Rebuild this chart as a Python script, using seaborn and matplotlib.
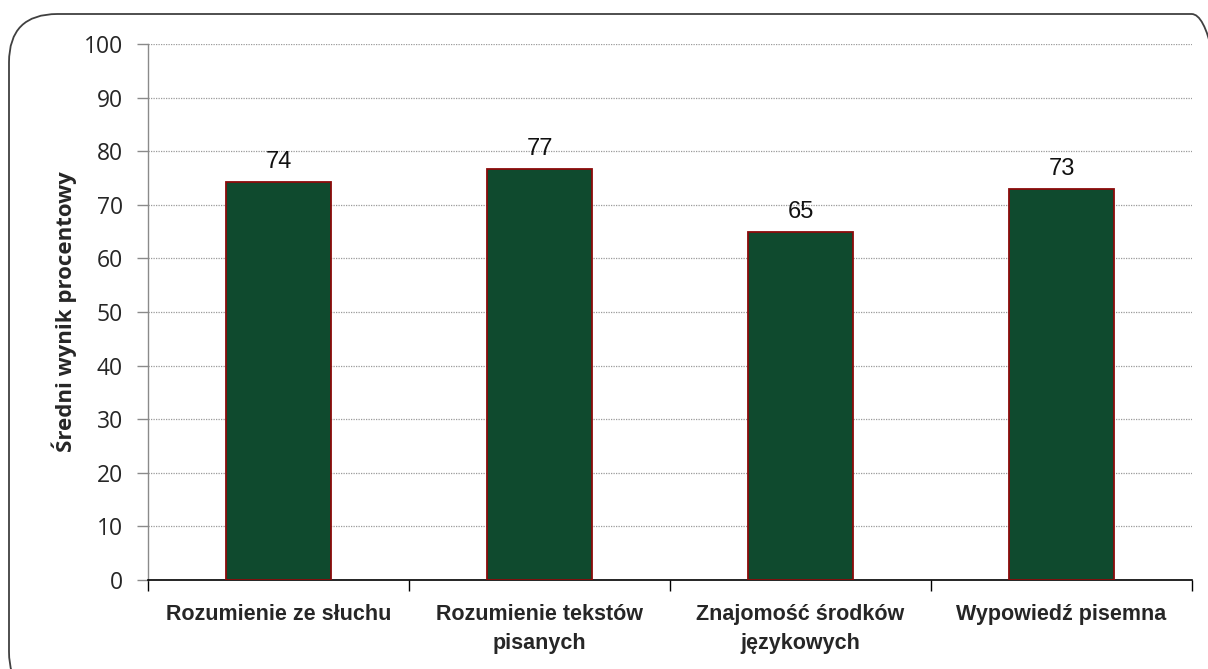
import matplotlib
matplotlib.use("Agg")
import matplotlib.pyplot as plt
import seaborn as sns
import pandas as pd
from matplotlib.patches import FancyBboxPatch

categories = ["Rozumienie ze słuchu", "Rozumienie tekstów\npisanych",
              "Znajomość środków\njęzykowych", "Wypowiedź pisemna"]
values = [74.3, 76.6, 64.9, 73.0]
labels = ["74", "77", "65", "73"]
yticks = [0, 10, 20, 30, 40, 50, 60, 70, 80, 90, 100]

sns.set_theme(style="white")
plt.rcParams['font.family'] = ['Liberation Sans', 'DejaVu Sans']

df = pd.DataFrame({"cat": categories, "val": values})

fig = plt.figure(figsize=(12.08, 6.69), dpi=100)
ax = fig.add_axes([148/1208, 1-580/669, (1192-148)/1208, (580-44)/669])

# rounded border
border = FancyBboxPatch((9/1208, 1-700/669), (1240-9)/1208, (700-14)/669,
                        boxstyle="round,pad=0,rounding_size=0.04",
                        transform=fig.transFigure, fill=False,
                        edgecolor="#404040", linewidth=1.3, zorder=0,
                        mutation_aspect=1208/669)
fig.patches.append(border)

sns.barplot(data=df, x="cat", y="val", ax=ax, color="#0F4A2E", width=0.4,
            edgecolor="#8B0A0A", linewidth=1.3, saturation=1, zorder=3)

ax.set_ylim(0, 100)
ax.set_xlim(-0.5, 3.5)
ax.set_yticks(yticks)
ax.set_yticklabels([str(t) for t in yticks], family=['Open Sans', 'DejaVu Sans'], fontsize=16.5)
ax.yaxis.grid(True, linestyle=(0, (1, 1)), color="#9a9a9a", linewidth=0.9, zorder=0)
ax.set_axisbelow(True)

for i, (v, lab) in enumerate(zip(values, labels)):
    ax.text(i, v + 1.7, lab, ha="center", va="bottom", fontsize=17,
            family=['Liberation Sans Narrow', 'Liberation Sans', 'DejaVu Sans'],
            color="#111111", zorder=4)

ax.set_xlabel("")
ax.set_ylabel("Średni wynik procentowy", fontsize=16, fontweight="bold",
              family=['Open Sans', 'DejaVu Sans'], labelpad=5)

ax.set_xticks(range(len(categories)))
ax.set_xticklabels(categories, fontsize=15.5, fontweight="bold",
                   family=['Liberation Sans', 'DejaVu Sans'], linespacing=1.55)
ax.tick_params(axis="x", length=0, pad=17)
ax.set_xticks([-0.5, 0.5, 1.5, 2.5, 3.5], minor=True)
ax.tick_params(axis="x", which="minor", length=8, width=1, color="#000000", direction="out", bottom=True)
ax.tick_params(axis="y", length=8, width=1, color="#8a8a8a", direction="out", left=True, pad=10)

for s in ["top", "right"]:
    ax.spines[s].set_visible(False)
ax.spines["left"].set_color("#8a8a8a")
ax.spines["left"].set_linewidth(1)
ax.spines["bottom"].set_color("#000000")
ax.spines["bottom"].set_linewidth(1.2)

fig.savefig("out.png", dpi=100)
